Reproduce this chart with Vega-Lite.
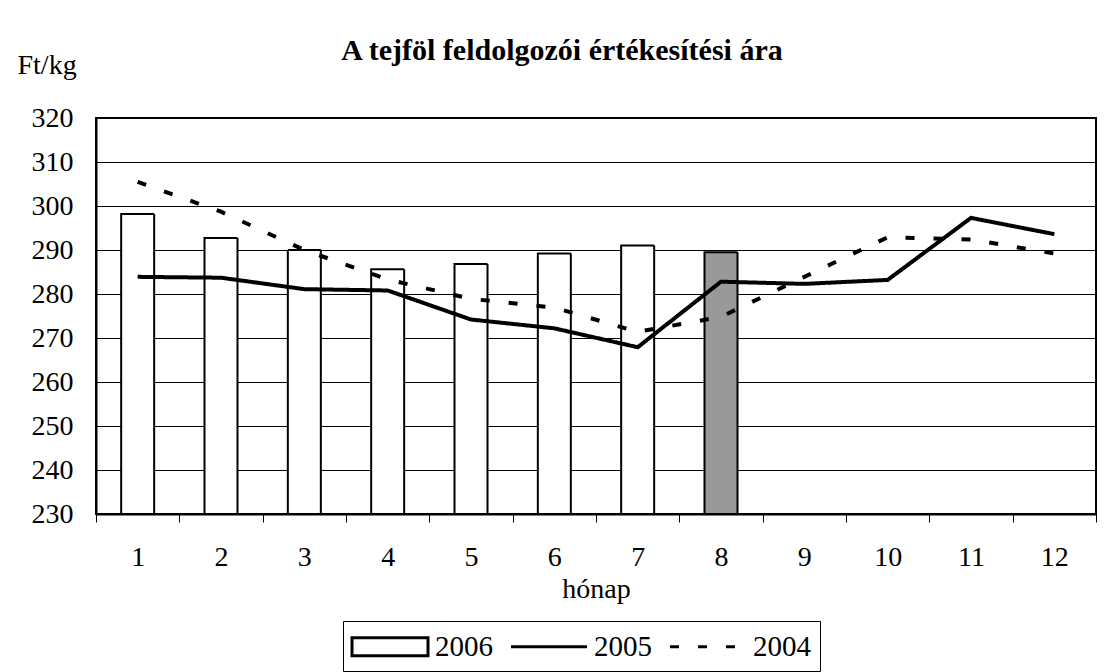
{
  "$schema": "https://vega.github.io/schema/vega-lite/v6.json",
  "width": 1000,
  "height": 396,
  "autosize": {"type": "none"},
  "padding": {"left": 96, "top": 118, "right": 13, "bottom": 158},
  "background": "white",
  "config": {
    "font": "Liberation Serif",
    "view": {"stroke": "black", "strokeWidth": 2},
    "axis": {"labelColor": "black", "titleColor": "black", "labelFont": "Liberation Serif", "titleFont": "Liberation Serif"}
  },
  "title": {
    "text": "A tejföl feldolgozói értékesítési ára",
    "anchor": "middle",
    "frame": "group",
    "dx": -34,
    "fontSize": 30,
    "font": "Liberation Serif",
    "fontWeight": "bold",
    "color": "black",
    "offset": -15
  },
  "data": {
    "values": [
      {"month": 1, "year": "2006", "price": 298.2},
      {"month": 2, "year": "2006", "price": 292.7},
      {"month": 3, "year": "2006", "price": 290.0},
      {"month": 4, "year": "2006", "price": 285.6},
      {"month": 5, "year": "2006", "price": 286.8},
      {"month": 6, "year": "2006", "price": 289.2},
      {"month": 7, "year": "2006", "price": 291.0},
      {"month": 8, "year": "2006", "price": 289.5},
      {"month": 1, "year": "2005", "price": 283.9},
      {"month": 2, "year": "2005", "price": 283.7},
      {"month": 3, "year": "2005", "price": 281.1},
      {"month": 4, "year": "2005", "price": 280.8},
      {"month": 5, "year": "2005", "price": 274.2},
      {"month": 6, "year": "2005", "price": 272.2},
      {"month": 7, "year": "2005", "price": 267.9},
      {"month": 8, "year": "2005", "price": 282.8},
      {"month": 9, "year": "2005", "price": 282.3},
      {"month": 10, "year": "2005", "price": 283.2},
      {"month": 11, "year": "2005", "price": 297.3},
      {"month": 12, "year": "2005", "price": 293.6},
      {"month": 1, "year": "2004", "price": 305.5},
      {"month": 2, "year": "2004", "price": 298.7},
      {"month": 3, "year": "2004", "price": 290.0},
      {"month": 4, "year": "2004", "price": 283.3},
      {"month": 5, "year": "2004", "price": 278.9},
      {"month": 6, "year": "2004", "price": 276.9},
      {"month": 7, "year": "2004", "price": 271.4},
      {"month": 8, "year": "2004", "price": 274.8},
      {"month": 9, "year": "2004", "price": 283.9},
      {"month": 10, "year": "2004", "price": 292.9},
      {"month": 11, "year": "2004", "price": 292.4},
      {"month": 12, "year": "2004", "price": 289.2}
    ]
  },
  "encoding": {
    "x": {
      "field": "month",
      "type": "ordinal",
      "scale": {"paddingInner": 0, "paddingOuter": 0},
      "axis": {
        "title": "hónap",
        "titleFontSize": 28,
        "titleFontWeight": "normal",
        "titleBaseline": "alphabetic",
        "titleY": 83,
        "labelAngle": 0,
        "labelFontSize": 28,
        "labelPadding": 21,
        "tickBand": "extent",
        "tickSize": 8,
        "tickColor": "black",
        "tickWidth": 1,
        "domainColor": "black",
        "domainWidth": 2,
        "grid": false
      }
    },
    "y": {
      "field": "price",
      "type": "quantitative",
      "scale": {"domain": [230, 320], "nice": false, "zero": false},
      "axis": {
        "title": "Ft/kg",
        "titleAngle": 0,
        "titleAlign": "left",
        "titleBaseline": "alphabetic",
        "titleX": -79,
        "titleY": -45,
        "titleFontSize": 28,
        "titleFontWeight": "normal",
        "values": [230, 240, 250, 260, 270, 280, 290, 300, 310, 320],
        "labelFontSize": 28,
        "labelPadding": 23,
        "ticks": false,
        "domainColor": "black",
        "domainWidth": 2,
        "grid": true,
        "gridColor": "black",
        "gridWidth": 1,
        "gridOpacity": 1
      }
    },
    "strokeDash": {
      "field": "year",
      "type": "nominal",
      "scale": {"domain": ["2006", "2005", "2004"], "range": [[1, 0], [1, 0], [9, 19]]},
      "legend": {
        "orient": "none",
        "legendX": 247,
        "legendY": 503,
        "direction": "horizontal",
        "title": null,
        "strokeColor": "black",
        "padding": 9,
        "labelFont": "Liberation Serif",
        "labelFontSize": 29,
        "labelColor": "black",
        "labelOffset": 28.5,
        "symbolOffset": 21.5,
        "columnPadding": 12,
        "symbolSize": 900,
        "symbolType": "stroke",
        "symbolStrokeColor": "black",
        "symbolStrokeWidth": 3,
        "symbolOpacity": 1,
        "encode": {
          "symbols": {
            "update": {
              "shape": {"signal": "datum.value === '2006' ? 'M-2.533,-0.6H2.533V0.6H-2.533Z' : 'M-2.533,0H2.533'"},
              "fill": {"signal": "datum.value === '2006' ? 'white' : 'transparent'"},
              "stroke": {"value": "black"},
              "strokeWidth": {"value": 3},
              "size": {"value": 900},
              "opacity": {"value": 1},
              "strokeOpacity": {"value": 1}
            }
          }
        }
      }
    }
  },
  "layer": [
    {
      "transform": [{"filter": "datum.year === '2006'"}],
      "mark": {"type": "bar", "width": 33, "stroke": "black", "strokeWidth": 2},
      "encoding": {
        "y2": {"datum": 230},
        "fill": {"condition": {"test": "datum.month === 8", "value": "#999999"}, "value": "white"}
      }
    },
    {
      "transform": [{"filter": "datum.year !== '2006'"}],
      "mark": {"type": "line", "color": "black", "strokeWidth": 4},
      "encoding": {
        "detail": {"field": "year"}
      }
    }
  ]
}
